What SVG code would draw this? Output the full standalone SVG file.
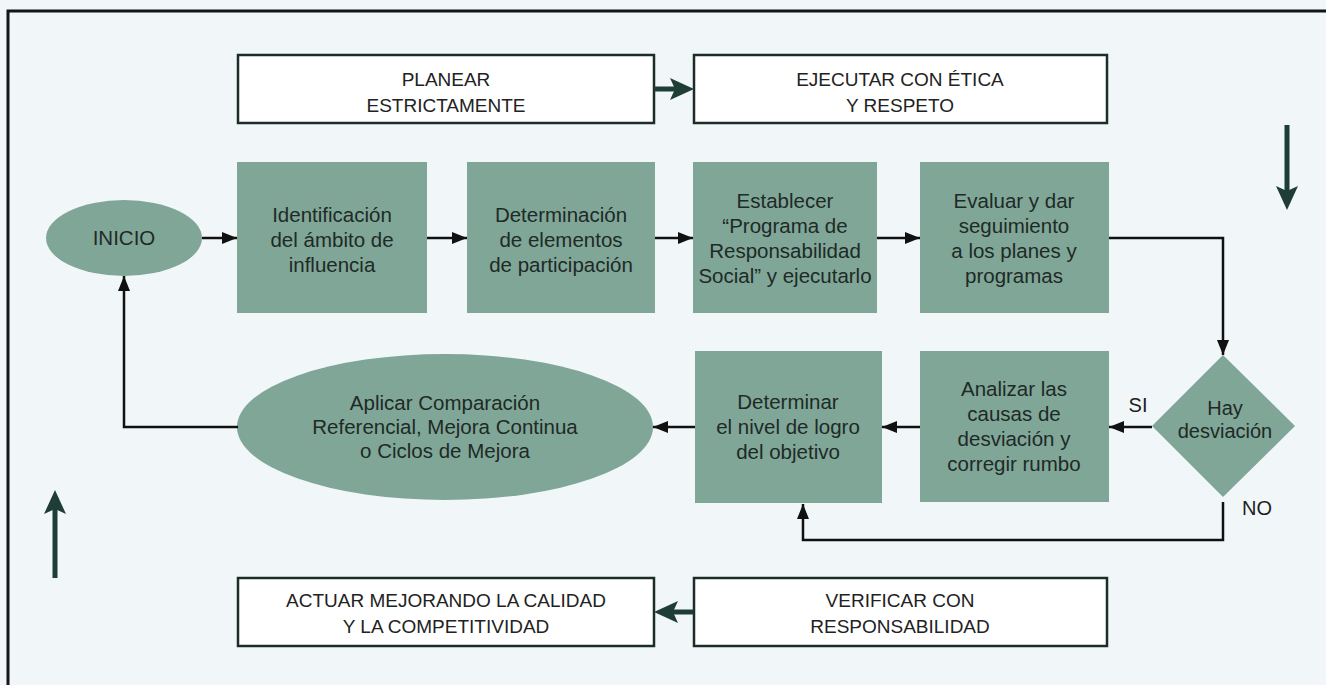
<svg xmlns="http://www.w3.org/2000/svg" width="1326" height="685" viewBox="0 0 1326 685">
<defs>
<style>
.bg{fill:#f1f7f9}
.frame{fill:none;stroke:#151515;stroke-width:3}
.phase{fill:#ffffff;stroke:#1c2d27;stroke-width:2.5}
.ptxt{font-family:"Liberation Sans",Arial,sans-serif;font-size:19px;fill:#222;text-anchor:middle}
.shape{fill:#80a698;stroke:none}
.stxt{font-family:"Liberation Sans",Arial,sans-serif;font-size:20.5px;fill:#1e2a26;text-anchor:middle}
.lbl{font-family:"Liberation Sans",Arial,sans-serif;font-size:20px;fill:#1e1e1e;text-anchor:middle}
.conn{fill:none;stroke:#111;stroke-width:2.5}
.thick{fill:none;stroke:#1e3d35;stroke-width:5}
.thead{fill:#1e3d35;stroke:none}
</style>
<marker id="ah" markerUnits="userSpaceOnUse" markerWidth="15" markerHeight="12" refX="15" refY="6" orient="auto">
<path d="M0,0 L15,6 L0,12 z" fill="#111"/>
</marker>
</defs>
<rect class="bg" x="0" y="0" width="1326" height="685"/>
<path class="frame" d="M8,685 V11 H1326"/>

<g id="planear">
<rect class="phase" x="238" y="55" width="416" height="68"/>
<text class="ptxt" x="446" y="86">PLANEAR</text>
<text class="ptxt" x="446" y="112">ESTRICTAMENTE</text>
</g>
<g id="ejecutar">
<rect class="phase" x="694" y="55" width="413" height="68"/>
<text class="ptxt" x="900" y="86">EJECUTAR CON ÉTICA</text>
<text class="ptxt" x="900" y="112">Y RESPETO</text>
</g>
<g id="actuar">
<rect class="phase" x="238" y="578" width="416" height="68"/>
<text class="ptxt" x="446" y="607">ACTUAR MEJORANDO LA CALIDAD</text>
<text class="ptxt" x="446" y="633">Y LA COMPETITIVIDAD</text>
</g>
<g id="verificar">
<rect class="phase" x="694" y="578" width="413" height="68"/>
<text class="ptxt" x="900" y="607">VERIFICAR CON</text>
<text class="ptxt" x="900" y="633">RESPONSABILIDAD</text>
</g>

<g id="inicio">
<ellipse class="shape" cx="124" cy="238" rx="78" ry="38"/>
<text class="stxt" x="124" y="245">INICIO</text>
</g>
<g id="identificacion">
<rect class="shape" x="237" y="162" width="190" height="151"/>
<text class="stxt" x="332" y="222">Identificación</text>
<text class="stxt" x="332" y="247">del ámbito de</text>
<text class="stxt" x="332" y="272">influencia</text>
</g>
<g id="determinacion">
<rect class="shape" x="467" y="162" width="188" height="151"/>
<text class="stxt" x="561" y="222">Determinación</text>
<text class="stxt" x="561" y="247">de elementos</text>
<text class="stxt" x="561" y="272">de participación</text>
</g>
<g id="establecer">
<rect class="shape" x="693" y="162" width="184" height="151"/>
<text class="stxt" x="785" y="208">Establecer</text>
<text class="stxt" x="785" y="233">“Programa de</text>
<text class="stxt" x="785" y="258">Responsabilidad</text>
<text class="stxt" x="785" y="283">Social” y ejecutarlo</text>
</g>
<g id="evaluar">
<rect class="shape" x="920" y="162" width="189" height="151"/>
<text class="stxt" x="1014" y="208">Evaluar y dar</text>
<text class="stxt" x="1014" y="233">seguimiento</text>
<text class="stxt" x="1014" y="258">a los planes y</text>
<text class="stxt" x="1014" y="283">programas</text>
</g>
<g id="desviacion">
<polygon class="shape" points="1223,355 1295,426 1223,497 1152,426"/>
<text class="stxt" x="1225" y="415" style="font-size:20px">Hay</text>
<text class="stxt" x="1225" y="438" style="font-size:20px">desviación</text>
</g>
<g id="analizar">
<rect class="shape" x="920" y="351" width="189" height="151"/>
<text class="stxt" x="1014" y="396">Analizar las</text>
<text class="stxt" x="1014" y="421">causas de</text>
<text class="stxt" x="1014" y="446">desviación y</text>
<text class="stxt" x="1014" y="471">corregir rumbo</text>
</g>
<g id="determinar">
<rect class="shape" x="695" y="351" width="187" height="152"/>
<text class="stxt" x="788" y="409">Determinar</text>
<text class="stxt" x="788" y="434">el nivel de logro</text>
<text class="stxt" x="788" y="459">del objetivo</text>
</g>
<g id="aplicar">
<ellipse class="shape" cx="445" cy="427" rx="208" ry="73"/>
<text class="stxt" x="445" y="410">Aplicar Comparación</text>
<text class="stxt" x="445" y="434">Referencial, Mejora Continua</text>
<text class="stxt" x="445" y="458">o Ciclos de Mejora</text>
</g>

<g id="connectors">
<path class="conn" d="M202,238 H237" marker-end="url(#ah)"/>
<path class="conn" d="M427,238 H467" marker-end="url(#ah)"/>
<path class="conn" d="M655,238 H693" marker-end="url(#ah)"/>
<path class="conn" d="M877,238 H920" marker-end="url(#ah)"/>
<path class="conn" d="M1109,238 H1223 V355" marker-end="url(#ah)"/>
<path class="conn" d="M1152,427 H1109" marker-end="url(#ah)"/>
<path class="conn" d="M920,427 H882" marker-end="url(#ah)"/>
<path class="conn" d="M695,427 H653" marker-end="url(#ah)"/>
<path class="conn" d="M238,427 H124 V276" marker-end="url(#ah)"/>
<path class="conn" d="M1223,502 V540 H803 V504" marker-end="url(#ah)"/>
<text class="lbl" x="1138" y="412">SI</text>
<text class="lbl" x="1257" y="515">NO</text>
<path class="thick" d="M654,89 H676"/>
<polygon class="thead" points="694,89 670,78 675,89 670,100"/>
<path class="thick" d="M1287,125 V192"/>
<polygon class="thead" points="1287,210 1276,186 1287,191 1298,186"/>
<path class="thick" d="M694,612 H672"/>
<polygon class="thead" points="654,612 678,601 673,612 678,623"/>
<path class="thick" d="M55,578 V508"/>
<polygon class="thead" points="55,490 44,514 55,509 66,514"/>
</g>
</svg>
